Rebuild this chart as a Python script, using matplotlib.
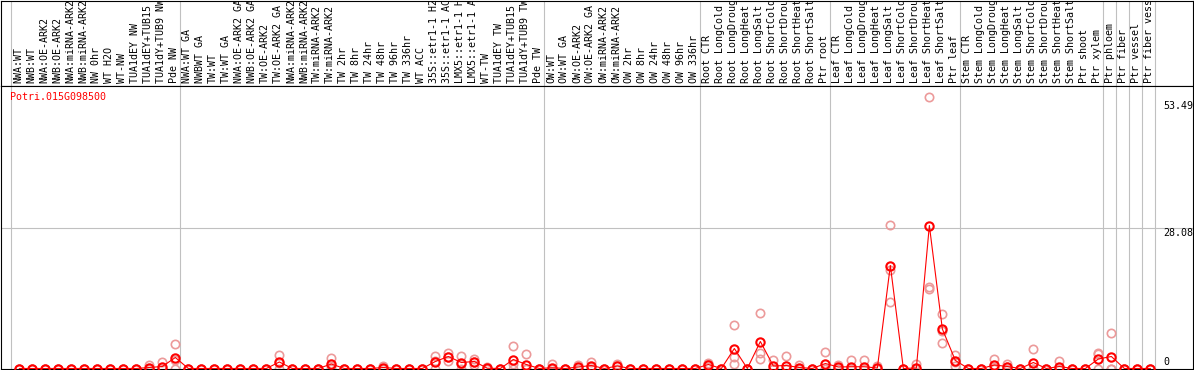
"""
Perfil de expressão de um gene (estilo eFP / PopGenIE)
Médias por amostra ligadas por linha, réplicas em rosa
"""

import numpy as np
import matplotlib
matplotlib.use("Agg")
import matplotlib.pyplot as plt

GENE = "Potri.015G098500"

samples = [
    "NWA:WT", "NWB:WT", "NWA:OE-ARK2", "NWB:OE-ARK2", "NWA:miRNA-ARK2",
    "NWB:miRNA-ARK2", "NW 0hr", "WT H2O", "WT-NW", "TUA1dEY NW",
    "TUA1dEY+TUB15 NW", "TUA1dY+TUB9 NW", "Pde NW",
    "NWA:WT GA", "NWBWT GA", "TW:WT", "TW:WT GA", "NWA:OE-ARK2 GA",
    "NWB:OE-ARK2 GA", "TW:OE-ARK2", "TW:OE-ARK2 GA", "NWA:miRNA-ARK2",
    "NWB:miRNA-ARK2", "TW:miRNA-ARK2", "TW:miRNA-ARK2", "TW 2hr", "TW 8hr",
    "TW 24hr", "TW 48hr", "TW 96hr", "TW 336hr", "WT ACC",
    "35S::etr1-1 H2O", "35S::etr1-1 ACC", "LMX5::etr1-1 H2O",
    "LMX5::etr1-1 ACC", "WT-TW", "TUA1dEY TW", "TUA1dEY+TUB15 TW",
    "TUA1dY+TUB9 TW", "Pde TW",
    "OW:WT", "OW:WT GA", "OW:OE-ARK2", "OW:OE-ARK2 GA", "OW:miRNA-ARK2",
    "OW:miRNA-ARK2", "OW 2hr", "OW 8hr", "OW 24hr", "OW 48hr", "OW 96hr",
    "OW 336hr",
    "Root CTR", "Root LongCold", "Root LongDrought", "Root LongHeat",
    "Root LongSalt", "Root ShortCold", "Root ShortDrought", "Root ShortHeat",
    "Root ShortSalt", "Ptr root",
    "Leaf CTR", "Leaf LongCold", "Leaf LongDrought", "Leaf LongHeat",
    "Leaf LongSalt", "Leaf ShortCold", "Leaf ShortDrought", "Leaf ShortHeat",
    "Leaf ShortSalt", "Ptr leaf",
    "Stem CTR", "Stem LongCold", "Stem LongDrought", "Stem LongHeat",
    "Stem LongSalt", "Stem ShortCold", "Stem ShortDrought", "Stem ShortHeat",
    "Stem ShortSalt", "Ptr shoot", "Ptr xylem",
    "Ptr phloem", "Ptr fiber", "Ptr vessel", "Ptr fiber vessel",
]

# tamanho de cada bloco de amostras (separados por linhas verticais)
group_sizes = [13, 28, 12, 10, 10, 11, 1, 1, 1, 1]

mean = [
    0, 0, 0, 0, 0, 0, 0, 0, 0, 0,
    0.2, 0.4, 2.2, 0, 0, 0, 0, 0, 0, 0,
    1.3, 0, 0, 0, 0.9, 0, 0, 0, 0.2, 0,
    0, 0, 1.4, 2.4, 1.2, 1.4, 0.05, 0, 1.8, 0.8,
    0, 0.15, 0, 0.3, 0.6, 0, 0.5, 0, 0, 0,
    0, 0, 0, 0.8, 0, 4.0, 0, 5.4, 0.5, 0.6,
    0.2, 0, 1.0, 0.3, 0.35, 0.35, 0.1, 20.6, 0, 0.1,
    28.6, 7.9, 1.6, 0, 0, 0.7, 0.4, 0, 1.2, 0,
    0.4, 0, 0, 1.9, 2.4, 0, 0, 0,
]

rep_a = [
    0, 0, 0, 0, 0, 0, 0, 0, 0, 0,
    0.7, 1.4, 4.9, 0, 0, 0, 0, 0, 0, 0,
    2.8, 0, 0, 0, 2.1, 0, 0, 0, 0.6, 0,
    0, 0, 2.6, 3.2, 2.6, 2.0, 0.4, 0, 4.5, 2.9,
    0, 1.0, 0, 0.8, 1.4, 0, 1.0, 0, 0, 0,
    0, 0, 0, 1.1, 0, 8.7, 0, 11.1, 1.8, 2.6,
    0.8, 0, 3.3, 0.7, 1.8, 1.7, 0.5, 28.7, 0, 1.0,
    54.3, 11.0, 2.8, 0, 0, 1.9, 0.9, 0, 4.0, 0,
    1.5, 0, 0, 3.2, 7.2, 0, 0, 0,
]

rep_b = [
    0, 0, 0, 0, 0, 0, 0, 0, 0, 0,
    0, 0, 1.7, 0, 0, 0, 0, 0, 0, 0,
    1.1, 0, 0, 0, 0.6, 0, 0, 0, 0, 0,
    0, 0, 1.6, 2.4, 0.9, 1.4, 0, 0, 0.9, 0,
    0, 0, 0, 0, 0.4, 0, 0.5, 0, 0, 0,
    0, 0, 0, 0.9, 0, 2.3, 0, 3.2, 0, 0,
    0, 0, 0, 0.2, 0, 0, 0, 19.7, 0, 0,
    16.4, 7.5, 1.3, 0, 0, 0.3, 0.3, 0, 0, 0,
    0, 0, 0, 2.9, 0, 0, 0, 0,
]

rep_c = [
    0, 0, 0, 0, 0, 0, 0, 0, 0, 0,
    0, 0, 0, 0, 0, 0, 0, 0, 0, 0,
    0, 0, 0, 0, 0, 0, 0, 0, 0, 0,
    0, 0, 0, 1.6, 0, 0.8, 0, 0, 0, 0,
    0, 0, 0, 0, 0, 0, 0, 0, 0, 0,
    0, 0, 0, 0.4, 0, 0.9, 0, 1.9, 0, 0,
    0, 0, 0, 0, 0, 0, 0, 13.4, 0, 0,
    16.0, 5.2, 0.6, 0, 0, 0, 0, 0, 0, 0,
    0, 0, 0, 0, 0, 0, 0, 0,
]

y_marks = [53.49, 28.08]

W, H = 1194, 370
HEADER = 86
GRID = "#c0c0c0"
PINK = "#ec9a9a"
MONO = "DejaVu Sans Mono"
FS = 7.2


def main():
    fig = plt.figure(figsize=(W / 100, H / 100), dpi=100)
    fig.patch.set_facecolor("white")

    x = np.arange(len(samples))
    xlim = (-1.41, 90.28)

    ax_h = fig.add_axes([1 / W, 1 - HEADER / H, 1192 / W, (HEADER - 0.5) / H])
    ax = fig.add_axes([1 / W, 1 / H, 1192 / W, (H - HEADER - 1) / H])

    # separadores dos blocos
    bounds = np.concatenate([[0], np.cumsum(group_sizes)]) - 1 + 0.37
    for a in (ax, ax_h):
        a.set_xlim(*xlim)
        for b in bounds:
            a.axvline(b, color=GRID, lw=0.8, zorder=0)
        a.set_xticks([])
        a.set_yticks([])
        for s in a.spines.values():
            s.set_color("black")
            s.set_linewidth(0.8)

    # cabeçalho com nomes das amostras
    ax_h.set_ylim(0, 1)
    for xi, lab in zip(x, samples):
        ax_h.text(xi - 0.1, 0.03, lab, rotation=90, ha="center", va="bottom",
                  family=MONO, fontsize=FS, clip_on=True)

    # área do gráfico
    ax.set_ylim(-0.1, 56.5)
    ax.axhline(y_marks[1], color=GRID, lw=0.8, zorder=0)

    for rep in (rep_a, rep_b, rep_c):
        ax.plot(x, rep, "o", ls="none", mfc="none", mec=PINK, ms=6, mew=1.2,
                zorder=2)
    ax.plot(x, mean, "-o", color="red", lw=0.8, mfc="none", mec="red",
            ms=6, mew=1.5, zorder=3)

    ax.text(0.0075, 1 - 11 / 283, GENE, transform=ax.transAxes, color="red",
            family=MONO, fontsize=FS, ha="left", va="center")

    for v in y_marks:
        ax.text(88.0, v, f"{v:.2f}", family=MONO, fontsize=FS,
                ha="left", va="top")
    ax.text(88.0, 0.3, "0", family=MONO, fontsize=FS, ha="left", va="bottom")

    fig.savefig("out.png", dpi=100)
    plt.close(fig)


if __name__ == "__main__":
    main()
